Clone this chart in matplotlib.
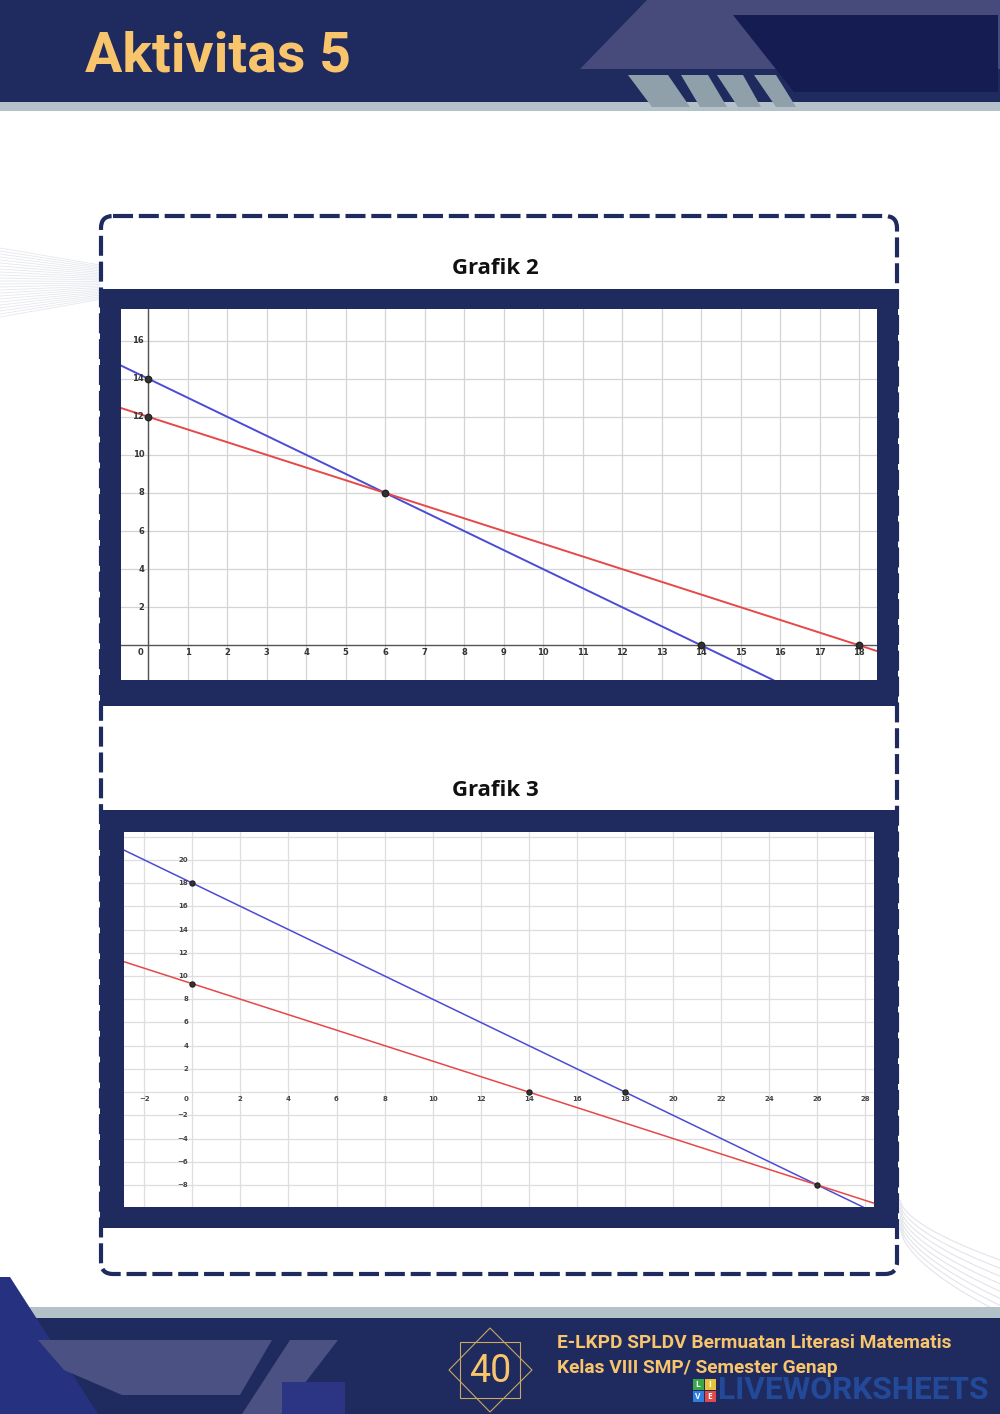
import numpy as np
import matplotlib
matplotlib.use("Agg")
import matplotlib.pyplot as plt
from matplotlib.patches import Polygon, Rectangle, FancyBboxPatch
from matplotlib.transforms import offset_copy
from matplotlib import font_manager as fm

# ---------------- data ----------------
# Grafik 2
g2_blue_pts = [(0, 14), (14, 0)]          # x + y = 14
g2_red_pts = [(0, 12), (18, 0)]           # 2x + 3y = 36
g2_points_x = [0, 0, 6, 14, 18]
g2_points_y = [14, 12, 8, 0, 0]
g2_xticks = list(range(0, 19))
g2_yticks = [2, 4, 6, 8, 10, 12, 14, 16]

# Grafik 3
g3_blue_pts = [(0, 18), (18, 0)]          # x + y = 18
g3_red_pts = [(0, 28 / 3), (14, 0)]       # 2x + 3y = 28
g3_points_x = [0, 0, 14, 18, 26]
g3_points_y = [18, 28 / 3, 0, 0, -8]
g3_xticks = list(range(-2, 29, 2))
g3_yticks = [-8, -6, -4, -2, 2, 4, 6, 8, 10, 12, 14, 16, 18, 20]

title_text = "Aktivitas 5"
chart_titles = ["Grafik 2", "Grafik 3"]
footer_line1 = "E-LKPD SPLDV Bermuatan Literasi Matematis"
footer_line2 = "Kelas VIII SMP/ Semester Genap"
page_number = "40"

# ---------------- style ----------------
NAVY = "#1f2a5e"
NAVY_DARK = "#141c52"
SLATE = "#474b7b"
STRIP = "#b3c1c9"
STRIPE = "#8fa0ab"
GOLD = "#f8c56c"
BLUE = "#4b4bd6"
RED = "#e64848"

names = {f.name for f in fm.fontManager.ttflist}
NARROW = "Liberation Sans Narrow" if "Liberation Sans Narrow" in names else "Roboto"
SANS = "Open Sans" if "Open Sans" in names else "DejaVu Sans"

W, H = 1000, 1414
fig = plt.figure(figsize=(W / 100, H / 100), dpi=100)
page = fig.add_axes([0, 0, 1, 1])
page.set_xlim(0, W)
page.set_ylim(H, 0)
page.axis("off")


def poly(pts, color, z=1, **kw):
    page.add_patch(Polygon(pts, closed=True, facecolor=color, edgecolor="none", zorder=z, **kw))


def rect(x0, y0, x1, y1, color, z=1):
    page.add_patch(Rectangle((x0, y0), x1 - x0, y1 - y0, facecolor=color, edgecolor="none", zorder=z))


# ---- header ----
rect(0, 0, W, 102, NAVY, 1)
rect(0, 102, W, 111, STRIP, 1)
poly([(647, 0), (W, 0), (W, 69), (580, 69)], SLATE, 2)
poly([(733, 15), (998, 15), (998, 92), (794, 92)], NAVY_DARK, 3)
for pts in [[(628, 75), (668, 75), (690, 107), (652, 107)],
            [(681, 75), (708, 75), (727, 107), (700, 107)],
            [(717, 75), (743, 75), (761, 107), (738, 107)],
            [(754, 75), (776, 75), (796, 107), (776, 107)]]:
    poly(pts, STRIPE, 4)
page.text(85, 56, title_text, color=GOLD, fontsize=40, fontweight="bold",
          family=NARROW, va="center", ha="left", zorder=5)

# ---- faint decorations ----
for i in range(24):
    y0 = 248 + i * 3.0
    y1 = 265 + i * 1.5
    page.plot([0, 100], [y0, y1], color="#e6e8ee", lw=0.6, zorder=0.5)
for i in range(8):
    t = np.linspace(0, 1, 40)
    xs = 900 + t * (100 + i * 10)
    ys = 1200 + i * 4 + (t ** 0.6) * (60 + i * 8)
    page.plot(xs, ys, color="#e2e4ea", lw=0.8, zorder=0.5)

# ---- dashed box ----
page.add_patch(FancyBboxPatch((101, 216), 796, 1058,
                              boxstyle="round,pad=0,rounding_size=12",
                              facecolor="none", edgecolor=NAVY, lw=3,
                              linestyle=(0, (4.8, 1.4)), zorder=2))

# ---- chart frames ----
rect(100, 289, 898, 706, NAVY, 3)
rect(100, 810, 898, 1228, NAVY, 3)
page.text(495, 268, chart_titles[0], fontsize=16, fontweight="bold", family=SANS,
          color="#111111", ha="center", va="center", zorder=4)
page.text(495, 790, chart_titles[1], fontsize=16, fontweight="bold", family=SANS,
          color="#111111", ha="center", va="center", zorder=4)

# ---- footer ----
rect(0, 1307, W, 1318, STRIP, 1)
rect(0, 1318, W, H, NAVY, 1)
poly([(0, 1277), (10, 1277), (98, H), (0, H)], "#26327f", 2)
poly([(38, 1340), (272, 1340), (240, 1395), (122, 1395), (64, 1370)], "#4b5182", 2)
poly([(290, 1340), (338, 1340), (281, H), (242, H)], "#4b5182", 2)
rect(282, 1382, 345, H, "#2b3584", 2)
page.add_patch(Polygon([(490, 1328), (532, 1370), (490, 1412), (449, 1370)], closed=True,
                       facecolor="none", edgecolor="#c9a864", lw=0.8, zorder=3))
page.add_patch(Rectangle((460, 1342), 60, 56, facecolor="none", edgecolor="#c9a864",
                         lw=0.8, zorder=3))
page.text(490, 1371, page_number, color=GOLD, fontsize=27, family=NARROW,
          ha="center", va="center", zorder=4)
page.text(557, 1343, footer_line1, color=GOLD, fontsize=13.8, family=NARROW,
          fontweight="bold", ha="left", va="center", zorder=4)
page.text(557, 1368, footer_line2, color=GOLD, fontsize=13.8, family=NARROW,
          fontweight="bold", ha="left", va="center", zorder=4)
# liveworksheets watermark
for (cx, cy, c, ch) in [(698, 1384, "#3aa84a", "L"), (710, 1384, "#e8c33a", "I"),
                        (698, 1396, "#2f7de0", "V"), (710, 1396, "#e04a4a", "E")]:
    rect(cx - 5.5, cy - 5.5, cx + 5.5, cy + 5.5, c, 5)
    page.text(cx, cy + 0.5, ch, color="white", fontsize=6, fontweight="bold",
              family=SANS, ha="center", va="center", zorder=6)
page.text(718, 1390, "LIVEWORKSHEETS", color="#2552a8", fontsize=22.8, fontweight="bold",
          family=NARROW, ha="left", va="center", zorder=5, alpha=0.8)


# ---------------- charts ----------------
def add_ax(x0, y0, x1, y1):
    return fig.add_axes([x0 / W, 1 - y1 / H, (x1 - x0) / W, (y1 - y0) / H])


def style_ax(ax, xlim, ylim):
    ax.set_xlim(*xlim)
    ax.set_ylim(*ylim)
    ax.set_facecolor("white")
    for s in ax.spines.values():
        s.set_visible(False)
    ax.set_xticks([])
    ax.set_yticks([])


def fmt(v):
    return str(v).replace("-", "\u2212")


# Grafik 2
ax2 = add_ax(121, 309, 877, 680)
style_ax(ax2, (-0.69, 18.45), (-1.82, 17.66))
for gx in range(0, 19):
    ax2.axvline(gx, color="#d4d4d4", lw=0.9, zorder=1)
for gy in range(2, 18, 2):
    ax2.axhline(gy, color="#d4d4d4", lw=0.9, zorder=1)
ax2.axhline(0, color="#555555", lw=1.0, zorder=2)
ax2.axvline(0, color="#555555", lw=1.0, zorder=2)
ax2.axline(g2_blue_pts[0], g2_blue_pts[1], color=BLUE, lw=1.4, zorder=3)
ax2.axline(g2_red_pts[0], g2_red_pts[1], color=RED, lw=1.4, zorder=3)
ax2.plot(g2_points_x, g2_points_y, "o", color="#333333", ms=4.6, mec="#222222", zorder=4)
tx_b = offset_copy(ax2.transData, fig=fig, x=0, y=-7.5, units="dots")
for v in g2_xticks:
    xpos = -0.2 if v == 0 else v
    ax2.text(xpos, 0, fmt(v), transform=tx_b, fontsize=6, fontweight="bold",
             color="#333333", ha="center", va="center")
ty_l = offset_copy(ax2.transData, fig=fig, x=-4, y=0, units="dots")
for v in g2_yticks:
    ax2.text(0, v, fmt(v), transform=ty_l, fontsize=6, fontweight="bold",
             color="#333333", ha="right", va="center")

# Grafik 3
ax3 = add_ax(124, 832, 874, 1207)
style_ax(ax3, (-2.84, 28.36), (-9.9, 22.4))
for gx in range(-2, 29, 2):
    ax3.axvline(gx, color="#dedede", lw=0.9, zorder=1)
for gy in range(-8, 23, 2):
    ax3.axhline(gy, color="#dedede", lw=0.9, zorder=1)
ax3.annotate("", xy=(28.45, 0), xytext=(-2.84, 0),
             arrowprops=dict(arrowstyle="-|>,head_length=0.5,head_width=0.2", color="#666666", lw=0.9),
             zorder=2)
ax3.annotate("", xy=(0, 22.5), xytext=(0, -9.9),
             arrowprops=dict(arrowstyle="-|>,head_length=0.5,head_width=0.2", color="#666666", lw=0.9),
             zorder=2)
ax3.axline(g3_blue_pts[0], g3_blue_pts[1], color=BLUE, lw=1.1, zorder=3)
ax3.axline(g3_red_pts[0], g3_red_pts[1], color=RED, lw=1.1, zorder=3)
ax3.plot(g3_points_x, g3_points_y, "o", color="#333333", ms=3.6, mec="#222222", zorder=4)
tx_b3 = offset_copy(ax3.transData, fig=fig, x=0, y=-6.5, units="dots")
for v in g3_xticks:
    xpos = -0.25 if v == 0 else v
    ax3.text(xpos, 0, fmt(v), transform=tx_b3, fontsize=5, fontweight="bold",
             color="#444444", ha="center", va="center")
ty_l3 = offset_copy(ax3.transData, fig=fig, x=-4, y=0, units="dots")
for v in g3_yticks:
    ax3.text(0, v, fmt(v), transform=ty_l3, fontsize=5, fontweight="bold",
             color="#444444", ha="right", va="center")

fig.savefig("out.png", dpi=100)
